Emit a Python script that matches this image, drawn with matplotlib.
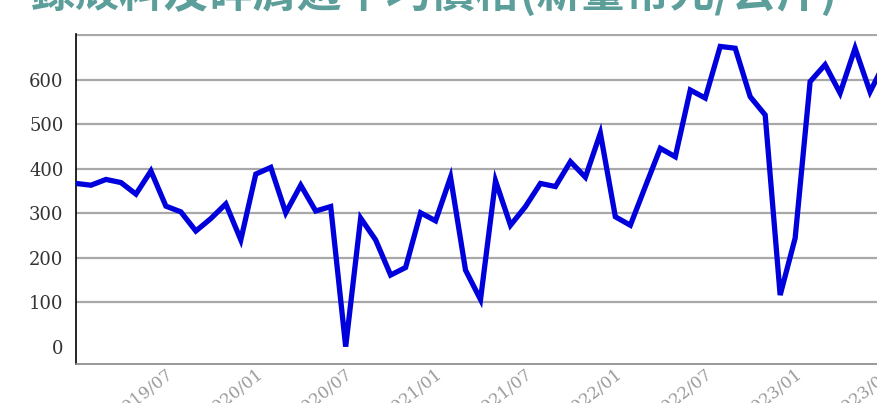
import matplotlib
matplotlib.use("Agg")
from matplotlib import pyplot as plt
import numpy as np

# monthly prices, starting 2019/01
prices = [367, 363, 376, 369, 343, 395, 316, 303, 260, 288,
          321, 240, 388, 403, 301, 363, 305, 315, 0, 289,
          240, 161, 178, 301, 283, 381, 172, 106, 373, 273,
          315, 367, 360, 416, 381, 480, 292, 273, 360, 446,
          427, 577, 559, 675, 671, 562, 521, 116, 244, 596,
          634, 570, 671, 573, 640]
tick_pos = [6, 12, 18, 24, 30, 36, 42, 48, 54]
tick_labels = ["2019/07", "2020/01", "2020/07", "2021/01", "2021/07",
               "2022/01", "2022/07", "2023/01", "2023/07"]
y_ticks = [0, 100, 200, 300, 400, 500, 600]
title = "錄殼料及碎屑週平均價格(新臺幣元/公斤)"

fig = plt.figure(figsize=(8.78, 4.03), dpi=100)
W, H = 878, 403
ax = fig.add_axes([76 / W, 39 / H, 839 / W, 330 / H])

for g in [100, 200, 300, 400, 500, 600, 700]:
    ax.axhline(g, color="#a8a8a8", lw=1.6, zorder=1)

x = np.arange(len(prices))
ax.plot(x, prices, color="#0000dd", lw=3.8, solid_joinstyle="miter", zorder=3)

ax.set_xlim(0, 56)
ax.set_ylim(-39, 703)
ax.set_yticks(y_ticks)
ax.set_yticklabels([str(v) for v in y_ticks], family="DejaVu Serif",
                   fontsize=13, color="#333333")
ax.set_xticks(tick_pos)
ax.set_xticklabels(tick_labels, family="DejaVu Serif", fontsize=12,
                   color="#9a9a9a", rotation=38, ha="right",
                   rotation_mode="anchor")
ax.tick_params(axis="both", length=0)
ax.tick_params(axis="y", pad=9)
ax.tick_params(axis="x", pad=1)

for s in ["top", "right"]:
    ax.spines[s].set_visible(False)
ax.spines["left"].set_color("black")
ax.spines["left"].set_linewidth(1.2)
ax.spines["bottom"].set_color("#888888")
ax.spines["bottom"].set_linewidth(1.2)

fig.text(30 / W, 1 - 7 / H, title, family=["Noto Sans CJK TC", "DejaVu Sans"],
         fontsize=32, fontweight="bold", color="#5b9e9a", va="baseline",
         ha="left")

fig.savefig("out.png", dpi=100)
